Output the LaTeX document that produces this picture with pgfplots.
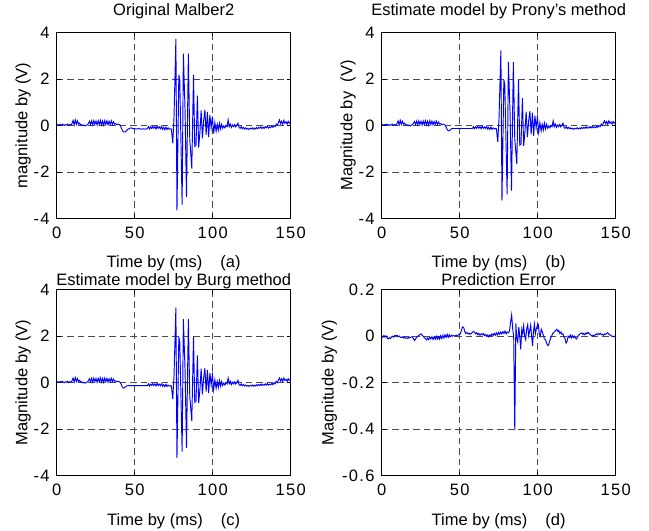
\documentclass[border=0pt]{standalone}
\usepackage{pgfplots}
\pgfplotsset{compat=1.18}
\usepackage{pgfplotstable}
\usepackage{fontspec}
\setmainfont{Liberation Sans}
\newfontfamily\tickfont[LetterSpace=8]{Liberation Sans}

\pgfplotstableread{
t v
0 0.02
0.7 0.04
1.4 0.01
2.1 0.05
2.8 0.02
3.5 0.06
4.2 0.03
4.9 0.0
5.6 0.04
6.3 0.02
7.0 0.06
7.7 0.01
8.4 0.04
9.1 0.02
9.8 0.08
10.5 0.22
11.2 0.03
11.9 0.24
12.6 0.05
13.3 0.2
14.0 0.06
14.7 0.1
15.4 0.02
16.1 0.04
16.8 -0.01
17.5 0.02
18.2 -0.02
18.9 0.01
19.6 0.03
20.3 0.08
21.0 0.18
21.7 0.04
22.4 0.2
23.1 0.03
23.8 0.21
24.5 0.05
25.2 0.19
25.9 0.02
26.6 0.2
27.3 0.04
28.0 0.22
28.7 0.03
29.4 0.19
30.1 0.02
30.8 0.21
31.5 0.04
32.2 0.2
32.9 0.03
33.6 0.18
34.3 0.05
35.0 0.2
35.7 0.04
36.4 0.16
37.1 0.06
37.8 0.08
38.5 0.04
39.2 0.06
39.9 0.05
40.6 0.02
41.3 -0.08
42.0 -0.2
42.7 -0.27
43.4 -0.28
44.1 -0.27
44.8 -0.22
45.5 -0.17
46.2 -0.14
46.9 -0.12
47.6 -0.1
48.3 -0.12
49.0 -0.14
49.7 -0.13
50.4 -0.15
51.1 -0.14
51.8 -0.15
52.5 -0.13
53.2 -0.15
53.9 -0.14
54.6 -0.16
55.3 -0.15
56.0 -0.14
56.7 -0.16
57.4 -0.15
58.1 -0.13
58.8 -0.05
59.5 -0.15
60.2 -0.06
60.9 -0.13
61.6 -0.04
62.3 -0.12
63.0 -0.05
63.7 -0.15
64.4 -0.03
65.1 -0.12
65.8 -0.06
66.5 -0.14
67.2 -0.04
67.9 -0.16
68.6 -0.08
69.3 -0.18
70.0 -0.07
70.7 -0.17
71.4 -0.1
72.1 -0.16
72.8 -0.14
73.5 -0.15
74.4 -0.76
75.2 0.36
76.4 3.72
77.1 -3.65
78.3 2.18
78.9 1.95
80.4 -3.4
81.2 3.09
82.3 0.6
83.2 -3.07
84.4 3.09
85.3 -0.6
86.6 -1.85
87.7 2.18
88.5 -0.9
89.3 -0.85
90.2 1.28
91.0 -0.95
91.8 -0.3
92.6 0.65
93.4 -0.55
94.2 0.2
95.0 0.68
95.8 -0.4
96.6 0.58
97.4 -0.5
98.2 0.45
99.0 -0.1
99.8 0.38
100.6 -0.35
101.4 0.12
102.2 -0.25
102.9 0.05
103.6 -0.2
104.3 0.1
105.0 -0.15
105.7 0.05
106.4 -0.12
107.1 -0.02
107.8 -0.1
108.5 0.0
109.2 -0.05
109.9 0.24
110.6 -0.05
111.3 0.06
112.0 -0.08
112.7 0.02
113.4 -0.05
114.1 0.04
114.8 -0.06
115.5 0.02
116.2 0.1
116.9 -0.08
117.6 -0.12
118.3 -0.05
119.0 -0.14
119.7 -0.08
120.4 -0.15
121.1 -0.1
121.8 -0.16
122.5 -0.12
123.2 -0.17
123.9 -0.12
124.6 -0.15
125.3 -0.1
126.0 -0.16
126.7 -0.11
127.4 -0.15
128.1 -0.09
128.8 -0.14
129.5 -0.08
130.2 -0.12
130.9 -0.06
131.6 -0.13
132.3 -0.07
133.0 -0.12
133.7 -0.05
134.4 -0.1
135.1 -0.04
135.8 -0.11
136.5 -0.06
137.2 -0.09
137.9 -0.03
138.6 -0.08
139.3 0.0
140.0 -0.05
140.7 0.06
141.4 0.0
142.1 0.12
142.8 0.24
143.5 0.08
144.2 0.18
144.9 0.05
145.6 0.22
146.3 0.1
147.0 0.16
147.7 0.06
148.4 0.18
149.1 0.1
149.8 0.14
}\origtable

\pgfplotstableread{
t v
0 0.02
0.7 0.04
1.4 0.01
2.1 0.05
2.8 0.02
3.5 0.06
4.2 0.03
4.9 0.0
5.6 0.04
6.3 0.02
7.0 0.06
7.7 0.01
8.4 0.04
9.1 0.02
9.8 0.08
10.5 0.2
11.2 0.03
11.9 0.22
12.6 0.05
13.3 0.18
14.0 0.06
14.7 0.1
15.4 0.02
16.1 0.04
16.8 -0.01
17.5 0.02
18.2 -0.02
18.9 0.01
19.6 0.03
20.3 0.08
21.0 0.17
21.7 0.04
22.4 0.19
23.1 0.03
23.8 0.2
24.5 0.05
25.2 0.18
25.9 0.02
26.6 0.19
27.3 0.04
28.0 0.21
28.7 0.03
29.4 0.18
30.1 0.02
30.8 0.2
31.5 0.04
32.2 0.19
32.9 0.03
33.6 0.17
34.3 0.05
35.0 0.19
35.7 0.04
36.4 0.15
37.1 0.06
37.8 0.08
38.5 0.04
39.2 0.06
39.9 0.05
40.6 0.02
41.3 -0.06
42.0 -0.18
42.7 -0.23
43.4 -0.22
44.1 -0.18
44.8 -0.14
45.5 -0.13
58.1 -0.13
58.8 -0.05
59.5 -0.14
60.2 -0.06
60.9 -0.12
61.6 -0.04
62.3 -0.12
63.0 -0.05
63.7 -0.14
64.4 -0.03
65.1 -0.12
65.8 -0.06
66.5 -0.13
67.2 -0.04
67.9 -0.15
68.6 -0.08
69.3 -0.17
70.0 -0.07
70.7 -0.16
71.4 -0.1
72.1 -0.15
72.8 -0.13
73.5 -0.14
74.4 -0.7
75.2 0.3
76.4 3.23
77.1 -3.23
78.3 1.97
78.9 1.75
80.4 -2.96
81.2 2.73
82.3 0.5
83.2 -2.8
84.4 2.73
85.3 -0.6
86.6 -1.65
87.7 1.97
88.5 -0.85
89.3 -0.8
90.2 1.18
91.0 -0.88
91.8 -0.3
92.6 0.6
93.4 -0.5
94.2 0.2
95.0 0.62
95.8 -0.38
96.6 0.55
97.4 -0.45
98.2 0.42
99.0 -0.1
99.8 0.35
100.6 -0.3
101.4 0.12
102.2 -0.24
102.9 0.05
103.6 -0.2
104.3 0.1
105.0 -0.15
105.7 0.05
106.4 -0.12
107.1 -0.02
107.8 -0.1
108.5 0.0
109.2 -0.05
109.9 0.2
110.6 -0.05
111.3 0.06
112.0 -0.08
112.7 0.02
113.4 -0.05
114.1 0.04
114.8 -0.06
115.5 0.02
116.2 0.1
116.9 -0.08
117.6 -0.12
118.3 -0.05
119.0 -0.13
119.7 -0.08
120.4 -0.14
121.1 -0.1
121.8 -0.15
122.5 -0.12
123.2 -0.16
123.9 -0.12
124.6 -0.14
125.3 -0.1
126.0 -0.15
126.7 -0.11
127.4 -0.14
128.1 -0.09
128.8 -0.13
129.5 -0.08
130.2 -0.12
130.9 -0.06
131.6 -0.12
132.3 -0.07
133.0 -0.11
133.7 -0.05
134.4 -0.1
135.1 -0.04
135.8 -0.1
136.5 -0.06
137.2 -0.09
137.9 -0.03
138.6 -0.08
139.3 0.0
140.0 -0.05
140.7 0.06
141.4 0.0
142.1 0.11
142.8 0.2
143.5 0.08
144.2 0.17
144.9 0.05
145.6 0.2
146.3 0.1
147.0 0.15
147.7 0.06
148.4 0.17
149.1 0.1
149.8 0.13
}\esttable

\pgfplotstableread{
t v
0 0.0
0.7 -0.005
1.4 0.003
2.1 -0.004
2.8 0.002
3.5 -0.008
4.2 -0.012
4.9 -0.006
5.6 -0.01
6.3 -0.003
7.0 0.0
7.7 -0.004
8.4 0.003
9.1 0.002
9.8 0.004
10.5 -0.002
11.2 0.001
11.9 -0.004
12.6 -0.006
13.3 -0.003
14.0 -0.008
14.7 -0.005
15.4 -0.009
16.1 -0.007
16.8 -0.01
17.5 -0.004
18.2 -0.006
19.6 -0.002
20.3 -0.01
21.0 -0.018
21.7 -0.012
22.4 -0.005
23.1 0.0
23.8 0.004
24.5 0.007
25.2 0.01
25.9 0.004
26.6 0.0
27.3 -0.006
28.0 -0.01
28.7 -0.016
29.4 -0.008
30.1 -0.015
30.8 -0.004
31.5 -0.012
32.2 -0.002
32.9 -0.014
33.6 -0.003
34.3 -0.013
35.0 0.0
35.7 -0.012
36.4 -0.002
37.1 -0.013
37.8 0.002
38.5 -0.01
39.2 0.004
39.9 -0.008
40.6 0.006
41.3 -0.005
42.0 0.008
42.7 -0.004
43.4 0.006
44.1 -0.002
44.8 0.004
45.5 0.0
46.2 0.003
46.9 0.0
47.6 0.004
48.3 0.002
49.0 0.005
49.7 0.008
50.4 0.01
51.1 0.025
51.8 0.04
52.5 0.038
53.2 0.022
53.9 0.012
54.6 0.016
55.3 0.01
56.0 0.013
56.7 0.008
57.4 0.012
58.1 0.016
58.8 0.02
59.5 0.018
60.2 0.01
60.9 0.015
61.6 0.006
62.3 0.012
63.0 0.004
63.7 0.01
64.4 0.006
65.1 0.012
65.8 0.003
66.5 0.008
67.2 0.0
67.9 0.005
68.6 -0.003
69.3 0.006
70.0 0.0
70.7 0.01
71.4 0.003
72.1 0.012
72.8 0.004
73.5 0.014
74.2 0.006
74.9 0.016
75.6 0.008
76.3 0.018
77.0 0.01
77.7 0.02
78.4 0.012
79.1 0.022
79.8 0.01
80.5 0.018
81.2 0.015
81.9 0.02
82.6 0.06
83.3 0.092
84.0 0.03
84.6 0.0
85.3 -0.404
86.0 0.055
86.6 -0.01
87.2 -0.025
87.9 0.04
88.5 0.0
89.1 -0.057
89.8 0.03
90.4 0.01
91.0 0.045
91.7 0.0
92.3 -0.015
92.9 0.03
93.6 0.05
94.2 0.002
94.8 0.02
95.5 0.048
96.1 0.0
96.7 -0.042
97.3 0.02
97.9 0.052
98.5 0.01
99.1 0.03
99.7 0.045
100.4 0.05
101.0 0.01
101.6 0.0
102.3 0.03
102.9 0.02
103.6 0.005
104.2 -0.01
104.9 -0.015
105.5 -0.025
106.2 -0.038
106.9 -0.04
107.5 -0.025
108.2 -0.01
108.9 0.0
109.5 0.01
110.2 0.015
110.9 0.02
111.5 0.025
112.2 0.03
112.9 0.02
113.5 0.025
114.2 0.012
114.9 0.018
115.5 0.008
116.2 0.01
116.9 -0.005
117.5 -0.01
118.2 -0.03
118.9 -0.02
119.5 0.0
120.2 -0.005
120.9 0.005
121.5 -0.008
122.2 0.003
122.9 -0.006
123.5 0.0
124.2 -0.008
124.9 -0.012
125.5 -0.004
126.2 0.004
126.9 0.008
127.5 0.012
128.2 0.014
128.9 0.008
129.5 0.012
130.2 0.006
130.9 0.014
131.5 0.01
132.2 0.017
132.9 0.012
133.5 0.008
134.2 0.004
134.9 0.0
135.5 0.005
136.2 0.0
136.9 0.006
137.5 0.01
138.2 0.006
138.9 0.012
139.5 0.008
140.2 0.012
140.9 0.006
141.5 0.008
142.2 0.004
142.9 0.01
143.5 0.008
144.2 0.012
144.9 0.015
145.5 0.01
146.2 0.006
146.9 0.004
147.5 0.0
148.2 -0.002
148.9 0.0
149.6 -0.003
150 -0.002
}\errtable

\pgfplotsset{
  mpanel/.style={
    scale only axis, width=234bp, height=186bp, anchor=south west,
    xmin=0, xmax=150, xtick={0,50,100,150},
    grid=major, no markers,
    major grid style={black!70, dash pattern=on 6.5bp off 4bp, line width=0.7bp},
    axis line style={black, line width=0.8bp},
    tick style={black, line width=0.7bp},
    major tick length=4bp,
    font=\fontsize{16.5bp}{19bp}\selectfont,
    ticklabel style={font=\fontsize{16.5bp}{19bp}\tickfont},
    /pgf/number format/assume math mode=true,
    xticklabel style={anchor=base, yshift=-20bp},
    yticklabel style={anchor=east, inner sep=0pt, xshift=-7bp},
    every axis x label/.style={at={(axis description cs:0.5,0)}, anchor=base, yshift=-49.5bp},
    every axis y label/.style={at={(axis description cs:-0.125,0.5)}, anchor=base, rotate=90},
  },
  toptitle/.style={every axis title/.style={at={(axis description cs:0.5,1)}, anchor=base, yshift=17.2bp}},
  bottitle/.style={every axis title/.style={at={(axis description cs:0.5,1)}, anchor=base, yshift=4.2bp}},
  sig/.style={blue, line width=0.95bp, mark=none},
}

\begin{document}
\begin{tikzpicture}
\useasboundingbox (0,0) rectangle (649bp,531bp);

\begin{axis}[mpanel, toptitle, at={(56.7bp,312.5bp)},
  ymin=-4, ymax=4, ytick={-4,-2,0,2,4},
  title={Original Malber2},
  xlabel={Time by (ms)\hspace{1.1em}(a)},
  ylabel={magnitude by (V)}]
\addplot[sig] table[x=t,y=v] {\origtable};
\end{axis}

\begin{axis}[mpanel, toptitle, at={(381.7bp,312.5bp)},
  ymin=-4, ymax=4, ytick={-4,-2,0,2,4},
  title={Estimate model by Prony's method},
  xlabel={Time by (ms)\hspace{1.1em}(b)},
  ylabel={Magnitude by\ \ (V)}]
\addplot[sig] table[x=t,y=v] {\esttable};
\end{axis}

\begin{axis}[mpanel, bottitle, at={(56.7bp,55.3bp)},
  ymin=-4, ymax=4, ytick={-4,-2,0,2,4},
  title={Estimate model by Burg method},
  xlabel={Time by (ms)\hspace{1.1em}(c)},
  ylabel={Magnitude by (V)}]
\addplot[sig] table[x=t,y=v] {\esttable};
\end{axis}

\begin{axis}[mpanel, bottitle, at={(381.7bp,55.3bp)},
  ymin=-0.6, ymax=0.2, ytick={-0.6,-0.4,-0.2,0,0.2},
  title={Prediction Error},
  xlabel={Time by (ms)\hspace{1.1em}(d)},
  every axis y label/.style={at={(axis description cs:-0.205,0.5)}, anchor=base, rotate=90},
  ylabel={Magnitude by (V)}]
\addplot[sig] table[x=t,y=v] {\errtable};
\end{axis}
\end{tikzpicture}
\end{document}
